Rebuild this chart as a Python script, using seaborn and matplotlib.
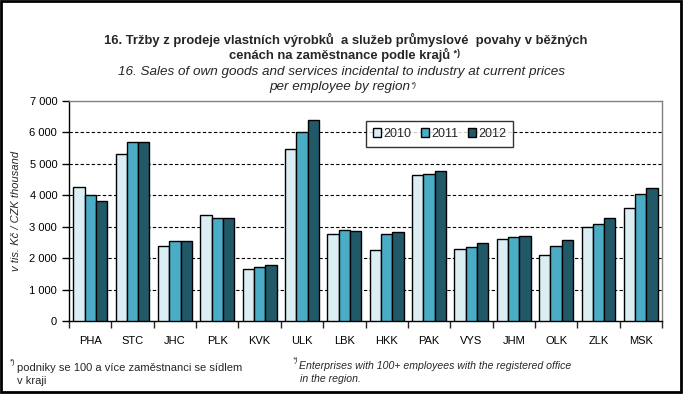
import numpy as np
import pandas as pd
import seaborn as sns
import matplotlib.pyplot as plt
from matplotlib.patches import Rectangle
from matplotlib.ticker import FuncFormatter, FixedLocator

# Data (thousand CZK per employee)
regions = ["PHA", "STC", "JHC", "PLK", "KVK", "ULK", "LBK",
           "HKK", "PAK", "VYS", "JHM", "OLK", "ZLK", "MSK"]
years = ["2010", "2011", "2012"]
sales_2010 = [4260, 5310, 2380, 3370, 1650, 5470, 2760, 2250, 4640, 2280, 2600, 2090, 2985, 3600]
sales_2011 = [4005, 5690, 2530, 3270, 1710, 6000, 2890, 2760, 4675, 2350, 2680, 2380, 3080, 4035]
sales_2012 = [3810, 5690, 2530, 3270, 1775, 6395, 2860, 2825, 4780, 2475, 2710, 2570, 3280, 4230]
colors = ["#DAEEF3", "#4BACC6", "#215968"]

df = pd.DataFrame({
    "region": regions * 3,
    "year": [y for y in years for _ in regions],
    "value": sales_2010 + sales_2011 + sales_2012,
})

sns.set_style("white")
plt.rcParams["font.family"] = ["Liberation Sans", "DejaVu Sans"]

fig = plt.figure(figsize=(6.84, 3.95), dpi=100)
ax = fig.add_axes([69 / 684, 1 - 321 / 395, (662 - 69) / 684, (321 - 101) / 395])

sns.barplot(data=df, x="region", y="value", hue="year", palette=colors, saturation=1,
            width=0.8, edgecolor="black", linewidth=1.0, ax=ax, zorder=3)

ax.set_ylim(0, 7000)
ax.set_xlim(-0.5, len(regions) - 0.5)
ax.set_yticks(np.arange(0, 7001, 1000))
ax.yaxis.set_major_formatter(FuncFormatter(lambda v, p: f"{int(v):,}".replace(",", " ")))
for yv in range(1000, 7000, 1000):
    ax.axhline(yv, color="black", linestyle=(0, (3, 2)), linewidth=0.8, zorder=1)

ax.set_xlabel("")
ax.set_ylabel("v tis. Kč / CZK thousand", fontsize=8, style="italic", labelpad=6)
ax.tick_params(axis="both", labelsize=8, colors="black")
ax.tick_params(axis="y", direction="out", length=5, width=1, left=True)
ax.tick_params(axis="x", which="major", length=0, pad=11)
ax.xaxis.set_minor_locator(FixedLocator(np.arange(-0.5, len(regions), 1)))
ax.tick_params(axis="x", which="minor", direction="out", length=5, width=1, bottom=True)

for side in ["left", "bottom"]:
    ax.spines[side].set_color("black")
    ax.spines[side].set_linewidth(1)
for side in ["top", "right"]:
    ax.spines[side].set_color("#808080")
    ax.spines[side].set_linewidth(1)

leg = ax.legend(loc="upper left", bbox_to_anchor=((366 - 69) / 593, 1 - 20 / 220),
                ncol=3, fontsize=9, frameon=True, fancybox=False, edgecolor="black",
                handlelength=0.65, handleheight=0.65, handletextpad=0.15, columnspacing=0.8,
                borderpad=0.55, borderaxespad=0)
leg.get_frame().set_linewidth(1)

# titles
t1 = fig.text(346 / 684, 1 - 40 / 395, "16. Tržby z prodeje vlastních výrobků  a služeb průmyslové  povahy v běžných",
              ha="center", va="center", fontsize=9.4, fontweight="bold")
t2 = fig.text(340 / 684, 1 - 55 / 395, "cenách na zaměstnance podle krajů",
              ha="center", va="center", fontsize=9.4, fontweight="bold")
ax.annotate(" *)", xy=(1, 0.3), xycoords=t2, va="bottom", ha="left",
            fontsize=6.5, fontweight="bold")
fig.text(342 / 684, 1 - 72 / 395, "16. Sales of own goods and services incidental to industry at current prices",
         ha="center", va="center", fontsize=9.7, style="italic")
t4 = fig.text(340 / 684, 1 - 87 / 395, "per employee by region",
              ha="center", va="center", fontsize=9.7, style="italic")
ax.annotate("*)", xy=(1, 0.35), xycoords=t4, va="bottom", ha="left",
            fontsize=6, style="italic")

# footnotes
fig.text(10 / 684, 1 - 366 / 395, "*)", fontsize=5.5, va="bottom")
fig.text(17 / 684, 1 - 368 / 395, "podniky se 100 a více zaměstnanci se sídlem",
         fontsize=8, va="center")
fig.text(17 / 684, 1 - 381 / 395, "v kraji", fontsize=8, va="center")
fig.text(293 / 684, 1 - 364 / 395, "*)", fontsize=5.5, va="bottom", style="italic")
fig.text(299 / 684, 1 - 366 / 395, "Enterprises with 100+ employees with the registered office",
         fontsize=7.6, va="center", style="italic")
fig.text(300 / 684, 1 - 379 / 395, "in the region.", fontsize=7.6, va="center", style="italic")

# outer frame
fig.add_artist(Rectangle((1 / 684, 3 / 395), 680 / 684, 391 / 395, transform=fig.transFigure,
                         fill=False, edgecolor="black", linewidth=2))

fig.savefig("out.png", dpi=100)
